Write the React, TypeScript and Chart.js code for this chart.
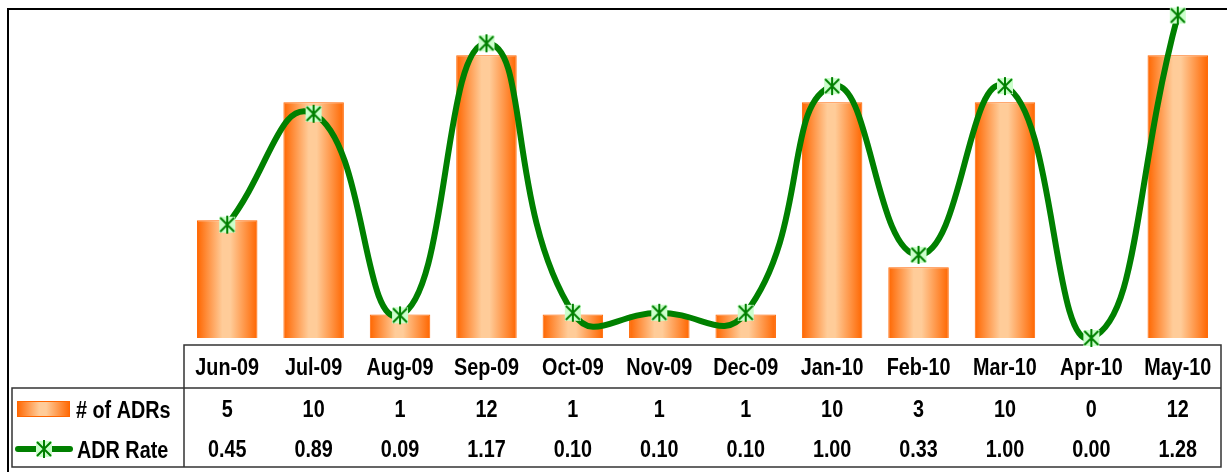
import { useEffect, useRef } from 'react';
import { Chart, registerables } from 'chart.js';

Chart.register(...registerables);

const categories = ['Jun-09', 'Jul-09', 'Aug-09', 'Sep-09', 'Oct-09', 'Nov-09', 'Dec-09', 'Jan-10', 'Feb-10', 'Mar-10', 'Apr-10', 'May-10'];
const adrCounts = [5, 10, 1, 12, 1, 1, 1, 10, 3, 10, 0, 12];
const adrRates = [0.45, 0.89, 0.09, 1.17, 0.10, 0.10, 0.10, 1.00, 0.33, 1.00, 0.00, 1.28];
const countLabels = ['5', '10', '1', '12', '1', '1', '1', '10', '3', '10', '0', '12'];
const rateLabels = ['0.45', '0.89', '0.09', '1.17', '0.10', '0.10', '0.10', '1.00', '0.33', '1.00', '0.00', '1.28'];
const seriesNames = ['# of ADRs', 'ADR Rate'];

const ORANGE = '#FF6600';
const PEACH = '#FFCC99';
const GREEN = '#008000';
const FONT = 'bold 23px "Liberation Sans", Arial, sans-serif';

function makeMarker(): HTMLCanvasElement {
  const c = document.createElement('canvas');
  c.width = 20;
  c.height = 20;
  const g = c.getContext('2d')!;
  g.fillStyle = '#CCFFCC';
  g.fillRect(2, 2, 16, 16);
  g.strokeStyle = GREEN;
  g.lineWidth = 2;
  g.beginPath();
  g.moveTo(3, 3);
  g.lineTo(17, 17);
  g.moveTo(17, 3);
  g.lineTo(3, 17);
  g.moveTo(10, 1);
  g.lineTo(10, 19);
  g.stroke();
  return c;
}

function barGradient(ctx: CanvasRenderingContext2D, x0: number, x1: number) {
  const g = ctx.createLinearGradient(x0, 0, x1, 0);
  g.addColorStop(0, ORANGE);
  g.addColorStop(0.42, PEACH);
  g.addColorStop(0.55, PEACH);
  g.addColorStop(1, ORANGE);
  return g;
}

function text(ctx: CanvasRenderingContext2D, s: string, x: number, y: number, align: CanvasTextAlign) {
  ctx.save();
  ctx.translate(x, y);
  ctx.scale(0.86, 1);
  ctx.textAlign = align;
  ctx.textBaseline = 'alphabetic';
  ctx.fillStyle = '#000';
  ctx.font = FONT;
  ctx.fillText(s, 0, 0);
  ctx.restore();
}

function makeTablePlugin(marker: HTMLCanvasElement) {
  return {
    id: 'dataTable',
    beforeDatasetsDraw(chart: any) {
      const ctx: CanvasRenderingContext2D = chart.ctx;
      const xs = chart.scales.x;
      const left = chart.chartArea.left;
      const right = chart.chartArea.right;
      const headTop = 345;
      const rowTop = 388;
      const bottom = 467;
      const legLeft = 12;

      ctx.save();
      ctx.strokeStyle = '#000';
      ctx.lineWidth = 2;
      ctx.beginPath();
      ctx.moveTo(8, 480);
      ctx.lineTo(8, 9);
      ctx.lineTo(1240, 9);
      ctx.stroke();

      ctx.strokeStyle = '#333';
      ctx.lineWidth = 1.5;
      ctx.beginPath();
      ctx.moveTo(left, bottom);
      ctx.lineTo(left, headTop);
      ctx.lineTo(right, headTop);
      ctx.lineTo(right, bottom);
      ctx.lineTo(legLeft, bottom);
      ctx.lineTo(legLeft, rowTop);
      ctx.lineTo(right, rowTop);
      ctx.stroke();

      categories.forEach((c, i) => {
        const x = xs.getPixelForValue(i);
        text(ctx, c, x, 375, 'center');
        text(ctx, countLabels[i], x, 417, 'center');
        text(ctx, rateLabels[i], x, 457, 'center');
      });

      ctx.fillStyle = barGradient(ctx, 17, 70);
      ctx.fillRect(17, 401, 53, 16);
      ctx.strokeStyle = ORANGE;
      ctx.lineWidth = 1;
      ctx.strokeRect(17.5, 401.5, 52, 15);
      text(ctx, seriesNames[0], 76, 418, 'left');

      ctx.strokeStyle = GREEN;
      ctx.lineWidth = 6;
      ctx.lineCap = 'round';
      ctx.beginPath();
      ctx.moveTo(18, 449);
      ctx.lineTo(70, 449);
      ctx.stroke();
      ctx.drawImage(marker, 44 - 10, 449 - 10);
      text(ctx, seriesNames[1], 77, 458, 'left');
      ctx.restore();
    },
  };
}

export default function App() {
  const ref = useRef<HTMLCanvasElement | null>(null);

  useEffect(() => {
    const canvas = ref.current!;
    const marker = makeMarker();
    const chart: any = new Chart(canvas, {
      type: 'bar',
      data: {
        labels: categories,
        datasets: [
          {
            type: 'line',
            label: seriesNames[1],
            data: adrRates,
            yAxisID: 'y1',
            order: 0,
            borderColor: GREEN,
            borderWidth: 6,
            borderCapStyle: 'round',
            borderJoinStyle: 'round',
            tension: 0.5,
            capBezierPoints: false,
            pointStyle: marker as any,
            pointRadius: 10,
            clip: false as any,
          } as any,
          {
            type: 'bar',
            label: seriesNames[0],
            data: adrCounts,
            yAxisID: 'y',
            order: 1,
            barPercentage: 0.7,
            categoryPercentage: 1,
            borderColor: ORANGE,
            borderWidth: 1,
            backgroundColor: (c: any) => {
              const ch = c.chart;
              const xs = ch.scales && ch.scales.x;
              if (!xs || c.type !== 'data' || !xs.width) return '#FF9955';
              const cx = xs.getPixelForValue(c.dataIndex);
              const w = (xs.width / categories.length) * 0.7;
              return barGradient(ch.ctx, cx - w / 2, cx + w / 2);
            },
          } as any,
        ],
      },
      options: {
        responsive: false,
        animation: false,
        devicePixelRatio: 1,
        layout: { autoPadding: false, padding: { left: 184, right: 6, top: 8, bottom: 134 } },
        plugins: { legend: { display: false }, tooltip: { enabled: false } },
        scales: {
          x: { display: false, offset: true, grid: { display: false } },
          y: { display: false, min: 0, max: 14 },
          y1: { display: false, min: 0, max: 1.31, position: 'right' },
        },
      } as any,
      plugins: [makeTablePlugin(marker) as any],
    });
    return () => chart.destroy();
  }, []);

  return (
    <div style={{ position: 'absolute', left: 0, top: 0, width: 1227, height: 472, background: '#fff' }}>
      <canvas ref={ref} width={1227} height={472} style={{ display: 'block', width: 1227, height: 472 }} />
    </div>
  );
}
